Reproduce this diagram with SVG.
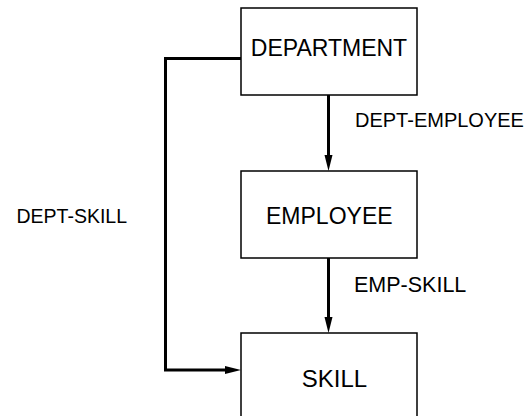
<svg xmlns="http://www.w3.org/2000/svg" width="528" height="418" viewBox="0 0 528 418">
  <style>
    .box { fill: #fff; stroke: #000; stroke-width: 1.5; }
    .name { font-family: "Liberation Sans", Arial, sans-serif; font-size: 23px; fill: #000; text-anchor: middle; }
    .lbl { font-family: "Liberation Sans", Arial, sans-serif; font-size: 19.5px; fill: #000; }
    .wire { fill: none; stroke: #000; stroke-width: 3; }
    .tip { fill: #000; }
  </style>
  <rect width="528" height="418" fill="#fff"/>

  <g id="connectors">
    <!-- DEPARTMENT -> EMPLOYEE -->
    <path class="wire" d="M328.5,95 V156"/>
    <polygon class="tip" points="324.5,155 332.5,155 328.5,171"/>
    <!-- EMPLOYEE -> SKILL -->
    <path class="wire" d="M328.5,258 V318"/>
    <polygon class="tip" points="324.5,317 332.5,317 328.5,333"/>
    <!-- DEPARTMENT -> SKILL (side route) -->
    <path class="wire" d="M241,58.5 H165.5 V370 H226"/>
    <polygon class="tip" points="225,366 225,374 241,370"/>
    <text class="lbl" x="355" y="127.3" style="font-size:20px">DEPT-EMPLOYEE</text>
    <text class="lbl" x="354" y="291.5" style="font-size:21.5px">EMP-SKILL</text>
    <text class="lbl" x="16.5" y="223.3">DEPT-SKILL</text>
  </g>

  <g id="department">
    <rect class="box" x="241" y="8" width="176" height="87"/>
    <text class="name" x="329" y="56">DEPARTMENT</text>
  </g>

  <g id="employee">
    <rect class="box" x="241" y="171" width="176" height="87"/>
    <text class="name" x="329.3" y="224.3">EMPLOYEE</text>
  </g>

  <g id="skill">
    <path class="box" d="M241,416 V333 H417 V416"/>
    <text class="name" x="334.5" y="386.7" style="font-size:24px">SKILL</text>
  </g>
</svg>
